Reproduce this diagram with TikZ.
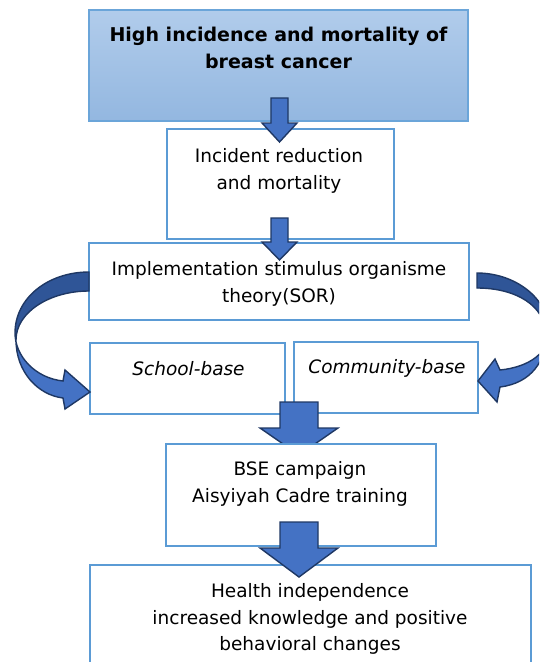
\documentclass[tikz,border=0pt]{standalone}
\usepackage{fontspec}
\setmainfont{DejaVu Sans}
\usetikzlibrary{positioning,calc}

\definecolor{boxline}{HTML}{5B9BD5}
\definecolor{toptop}{HTML}{B1CCEB}
\definecolor{topbottom}{HTML}{93B7E0}
\definecolor{arrowfill}{HTML}{4472C4}
\definecolor{arrowdark}{HTML}{2F5597}
\definecolor{arrowline}{HTML}{1F3864}

\tikzset{
  box/.style={draw=boxline, line width=2pt, fill=white, inner sep=0pt},
  topbox/.style={draw=boxline!90, line width=1.2pt, top color=toptop, bottom color=topbottom, inner sep=0pt},
  txt/.style={align=center, inner sep=0pt, font=\fontsize{18.5}{26.5}\selectfont},
  blockarrow/.style={fill=arrowfill, draw=arrowline, line width=1.4pt, line join=miter},
  curvearrow/.style={draw=arrowline, line width=1.4pt, line join=miter}
}

% from, tip, shaft half width, head half width, head length
\newcommand\downblock[5]{%
  \draw[blockarrow] ($(#1)+(-#3,0)$) -- ($(#2)+(-#3,-#5)$) -- ($(#2)+(-#4,-#5)$) -- (#2)
    -- ($(#2)+(#4,-#5)$) -- ($(#2)+(#3,-#5)$) -- ($(#1)+(#3,0)$) -- cycle;}

\def\leftcurve{(89,272) .. controls (48,272) and (15,298) .. (15,333)
  .. controls (15,356) and (35,378) .. (63,381) -- (65,370) -- (90,392) -- (65,409) -- (63,398)
  .. controls (38,395) and (16,372) .. (16,340) .. controls (16,312) and (50,291) .. (89,291) -- cycle}
\def\rightcurve{(477,273) .. controls (515,273) and (548,298) .. (549,330)
  .. controls (550,352) and (530,367) .. (500,370) -- (495,359) -- (478,381) -- (497,402) -- (500,387)
  .. controls (532,383) and (546,360) .. (546,336) .. controls (546,305) and (515,288) .. (477,288) -- cycle}

\begin{document}
\begin{tikzpicture}[x=1pt, y=-1pt]
\useasboundingbox (0,0) rectangle (539,662);
\clip (0,0) rectangle (539,662);

\node[topbox, minimum width=379pt, minimum height=111pt] (high) at (278.5,65.5) {};
\node[txt, font=\fontsize{19}{27}\selectfont\bfseries] (hightxt) at (278.5,48)
  {High incidence and mortality of\\breast cancer};

\node[box, minimum width=227pt, minimum height=110pt] (incid) at (280.5,184) {};
\node[txt] (incidtxt) at (279,171) {Incident reduction\\and mortality};

\node[box, minimum width=380pt, minimum height=77pt] (sor) at (279,281.5) {};
\node[txt] (sortxt) at (279,284) {Implementation stimulus organisme\\theory(SOR)};

\coordinate (a1top) at (279.5,98);
\coordinate (a1tip) at (279.5,142);
\downblock{a1top}{a1tip}{8.5}{17.5}{19}
\coordinate (a2top) at (279.5,218);
\coordinate (a2tip) at (279.5,260);
\downblock{a2top}{a2tip}{8.5}{17.5}{18}

\node[box, minimum width=195pt, minimum height=71pt] (school) at (187.5,378.5) {};
\node[txt, font=\fontsize{18.5}{26.5}\selectfont\itshape] (schooltxt) at (188.5,369) {School-base};
\node[box, minimum width=184pt, minimum height=71pt] (commun) at (386,377.5) {};
\node[txt, font=\fontsize{18.5}{26.5}\selectfont\itshape] (communtxt) at (387,368) {Community-base};

\fill[arrowfill] \leftcurve;
\begin{scope}
  \clip (0,250) rectangle (100,338);
  \fill[arrowdark] \leftcurve;
\end{scope}
\draw[curvearrow] \leftcurve;

\fill[arrowfill] \rightcurve;
\begin{scope}
  \clip (460,250) rectangle (539,340);
  \fill[arrowdark] \rightcurve;
\end{scope}
\draw[curvearrow] \rightcurve;

\coordinate (a3top) at (299,402);
\coordinate (a3tip) at (299,455);
\downblock{a3top}{a3tip}{19}{39}{27}

\node[box, minimum width=270pt, minimum height=102pt] (bse) at (301,495) {};
\node[txt] (bsetxt) at (300,484) {BSE campaign\\Aisyiyah Cadre training};

\node[box, minimum width=441pt, minimum height=135pt] (health) at (310.5,632.5) {};
\node[txt] (healthtxt) at (310,619) {Health independence\\increased knowledge and positive\\behavioral changes};

\coordinate (a4top) at (299,522);
\coordinate (a4tip) at (299,577);
\downblock{a4top}{a4tip}{19}{39}{29}
\end{tikzpicture}
\end{document}
